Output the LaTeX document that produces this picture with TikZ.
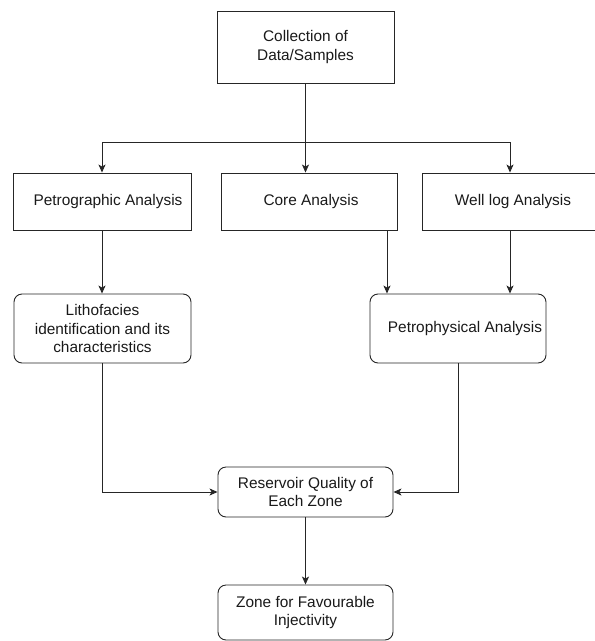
\documentclass[tikz,border=0pt]{standalone}
\usepackage{fontspec}
\setmainfont{Liberation Sans}
\usetikzlibrary{arrows.meta}
\begin{document}
\begin{tikzpicture}[x=1pt,y=-1pt,
  font=\fontsize{15.4}{18.5}\selectfont,
  box/.style={draw=black!85, line width=0.9pt, inner sep=0pt, align=center, text=black!90},
  rbox/.style={box, rounded corners=8pt},
  arr/.style={draw=black!85, line width=0.9pt, -{Stealth[length=8pt,width=7pt,inset=2pt]}},
  ln/.style={draw=black!85, line width=0.9pt}]
\useasboundingbox (0,0) rectangle (595,641);
\node[box, minimum width=177, minimum height=72] (top) at (305.5,47) {Collection of\\Data/Samples};
\node[box, minimum width=178, minimum height=57] (petro) at (102,201.5) {\hspace*{12pt}Petrographic Analysis};
\node[box, minimum width=176, minimum height=57] (core) at (309,201.5) {\hspace*{4pt}Core Analysis};
\node[box, minimum width=176, minimum height=57] (well) at (510,201.5) {\hspace*{6pt}Well log Analysis};
\node[rbox, minimum width=177, minimum height=69] (litho) at (102.5,328.5) {Lithofacies\\identification and its\\characteristics};
\node[rbox, minimum width=176, minimum height=69] (phys) at (458,328.5) {\hspace*{14pt}Petrophysical Analysis};
\node[rbox, minimum width=175, minimum height=50] (res) at (305.5,492) {Reservoir Quality of\\Each Zone};
\node[rbox, minimum width=175, minimum height=55] (zone) at (305.5,612.5) {Zone for Favourable\\Injectivity};
\coordinate (split) at (305.5,142);
\coordinate (coreout) at (387,230);
\draw[arr] (top.south) -- (top.south |- core.north);
\draw[arr] (split) -| (petro.north);
\draw[arr] (split) -| (well.north);
\draw[arr] (petro.south) -- (petro.south |- litho.north);
\draw[arr] (coreout) -- (coreout |- phys.north);
\draw[arr] (well.south) -- (well.south |- phys.north);
\draw[arr] (litho.south) |- (res.west);
\draw[arr] (phys.south) |- (res.east);
\draw[arr] (res.south) -- (zone.north);
\end{tikzpicture}
\end{document}
